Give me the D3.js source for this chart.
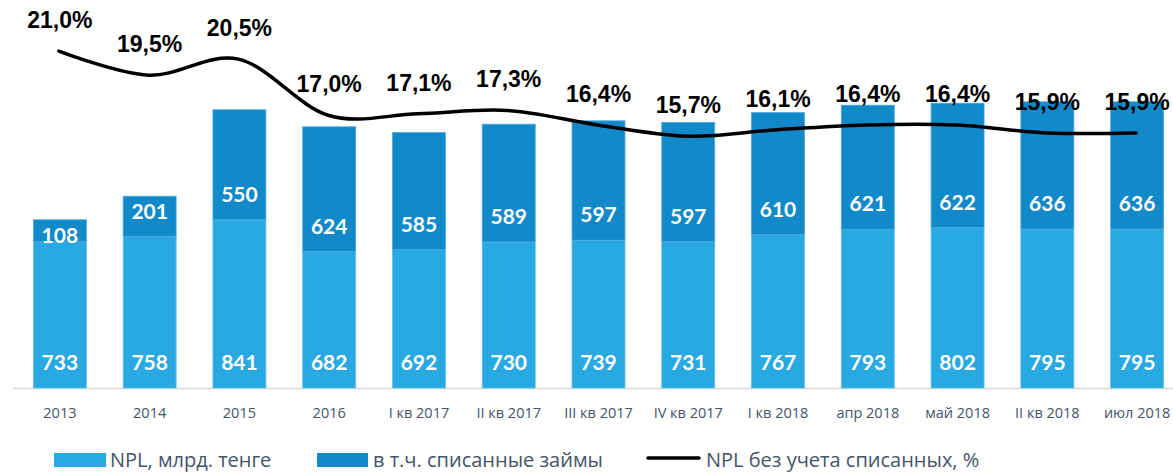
<!DOCTYPE html>
<html>
<head>
<meta charset="utf-8">
<script src="https://cdn.jsdelivr.net/npm/d3@7"></script>
<style>
  body { margin: 0; background: #fff; }
  svg { display: block; }
  .tick-label { font-family: "Open Sans", Lato, sans-serif; font-size: 14.5px; fill: #44546a; }
  .bar-label { font-family: Lato, "Open Sans", sans-serif; font-size: 21px; font-weight: 700; fill: #fff; }
  .pct-label { font-family: "Liberation Sans", Arial, sans-serif; font-size: 23px; font-weight: 700; fill: #000; }
  .legend-label { font-family: "Open Sans", Lato, sans-serif; font-size: 20px; fill: #44546a; }
</style>
</head>
<body>
<svg width="1173" height="472"></svg>
<script>
const categories = [
  "2013", "2014", "2015", "2016", "I кв 2017", "II кв 2017", "III кв 2017",
  "IV кв 2017", "I кв 2018", "апр 2018", "май 2018", "II кв 2018", "июл 2018"
];
const npl = [733, 758, 841, 682, 692, 730, 739, 731, 767, 793, 802, 795, 795];
const writtenOff = [108, 201, 550, 624, 585, 589, 597, 597, 610, 621, 622, 636, 636];
const nplPct = [21.0, 19.5, 20.5, 17.0, 17.1, 17.3, 16.4, 15.7, 16.1, 16.4, 16.4, 15.9, 15.9];

const legendNames = ["NPL, млрд. тенге", "в т.ч. списанные займы", "NPL без учета списанных, %"];

const LIGHT = "#29a9e1";
const DARK = "#1289c9";

const svg = d3.select("svg");
const baseY = 388;

const x = d3.scaleBand().domain(categories).range([15, 1182]).paddingInner(0.41).paddingOuter(0.205);
const y = d3.scaleLinear().domain([0, 1400]).range([baseY, 108]);
const y2 = d3.scaleLinear().domain([0, 24]).range([baseY, 3]);

const fmt = (v) => v.toFixed(1).replace(".", ",") + "%";

const rows = categories.map((c, i) => ({ cat: c, npl: npl[i], off: writtenOff[i], pct: nplPct[i] }));

// axis line
svg.append("line")
  .attr("x1", 13).attr("x2", 1173)
  .attr("y1", baseY + 0.5).attr("y2", baseY + 0.5)
  .attr("stroke", "#d9d9d9").attr("stroke-width", 1.5);

// bars
const bars = svg.append("g");
bars.selectAll("rect.npl")
  .data(rows)
  .join("rect")
  .attr("class", "npl")
  .attr("x", (d) => x(d.cat))
  .attr("width", x.bandwidth())
  .attr("y", (d) => y(d.npl))
  .attr("height", (d) => baseY - y(d.npl))
  .attr("fill", LIGHT)
  .attr("stroke", "#5ec0ec").attr("stroke-width", 0.8);

bars.selectAll("rect.off")
  .data(rows)
  .join("rect")
  .attr("class", "off")
  .attr("x", (d) => x(d.cat))
  .attr("width", x.bandwidth())
  .attr("y", (d) => y(d.npl + d.off))
  .attr("height", (d) => y(d.npl) - y(d.npl + d.off))
  .attr("fill", DARK)
  .attr("stroke", "#4aa8dc").attr("stroke-width", 0.8);

// bar labels
bars.selectAll("text.npl-label")
  .data(rows)
  .join("text")
  .attr("class", "bar-label")
  .attr("x", (d) => x(d.cat) + x.bandwidth() / 2)
  .attr("y", baseY - 18)
  .attr("text-anchor", "middle")
  .text((d) => d.npl);

bars.selectAll("text.off-label")
  .data(rows)
  .join("text")
  .attr("class", "bar-label")
  .attr("x", (d) => x(d.cat) + x.bandwidth() / 2)
  .attr("y", (d) => Math.max(y(d.npl) - 18, y(d.npl + d.off) + 23))
  .attr("text-anchor", "middle")
  .text((d) => d.off);

// line
const line = d3.line()
  .x((d) => x(d.cat) + x.bandwidth() / 2 - 1)
  .y((d) => y2(d.pct))
  .curve(d3.curveCardinal.tension(0));

svg.append("path")
  .datum(rows)
  .attr("d", line)
  .attr("fill", "none")
  .attr("stroke", "#000")
  .attr("stroke-width", 3.5)
  .attr("stroke-linecap", "round");

svg.append("g").selectAll("text")
  .data(rows)
  .join("text")
  .attr("class", "pct-label")
  .attr("x", (d) => x(d.cat) + x.bandwidth() / 2)
  .attr("y", (d) => y2(d.pct) - 23)
  .attr("text-anchor", "middle")
  .text((d) => fmt(d.pct));

// category labels
svg.append("g").selectAll("text")
  .data(categories)
  .join("text")
  .attr("class", "tick-label")
  .attr("x", (d) => x(d) + x.bandwidth() / 2)
  .attr("y", 418)
  .attr("text-anchor", "middle")
  .text((d) => d);

// legend
const legend = svg.append("g");
legend.append("rect").attr("x", 54).attr("y", 453).attr("width", 52).attr("height", 14).attr("fill", LIGHT);
legend.append("text").attr("class", "legend-label").attr("x", 110).attr("y", 467).text(legendNames[0]);
legend.append("rect").attr("x", 317).attr("y", 453).attr("width", 51).attr("height", 14).attr("fill", DARK);
legend.append("text").attr("class", "legend-label").attr("x", 373).attr("y", 467).text(legendNames[1]);
legend.append("line").attr("x1", 648).attr("x2", 699).attr("y1", 458).attr("y2", 458)
  .attr("stroke", "#000").attr("stroke-width", 3.5).attr("stroke-linecap", "round");
legend.append("text").attr("class", "legend-label").attr("x", 706).attr("y", 467).text(legendNames[2]);
</script>
</body>
</html>
